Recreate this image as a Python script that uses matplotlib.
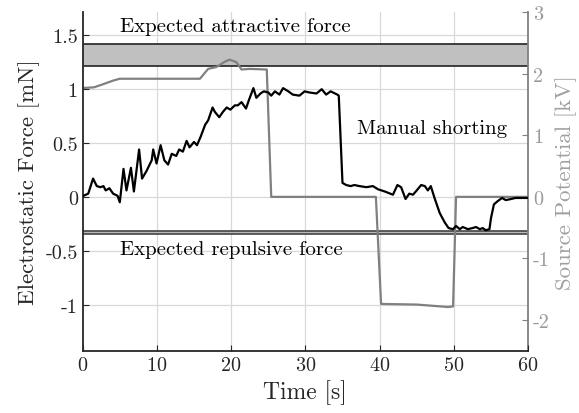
import numpy as np
import matplotlib
matplotlib.use("Agg")
import matplotlib.pyplot as plt

plt.rcParams["font.family"] = "serif"
plt.rcParams["font.serif"] = ["cmr10", "DejaVu Serif"]
plt.rcParams["mathtext.fontset"] = "cm"
plt.rcParams["axes.unicode_minus"] = False
plt.rcParams["axes.formatter.use_mathtext"] = True

# electrostatic force [mN] vs time [s]
t_force = [0.1, 0.75, 1.4, 1.9, 2.4, 2.8, 3.1, 3.6, 4.1, 4.7, 5.0, 5.5, 5.9, 6.5, 6.9,
           7.6, 8.0, 8.6, 9.3, 9.5, 9.95, 10.5, 11.0, 11.5, 12.0, 12.6, 13.0, 13.5,
           14.0, 14.4, 15.0, 15.4, 15.9, 16.5, 16.9, 17.5, 17.8, 18.4, 18.9, 19.4,
           19.9, 20.5, 20.9, 21.4, 22.0, 22.4, 23.0, 23.4, 23.95, 24.4, 25.0, 25.4,
           25.9, 26.5, 27.0, 27.7, 28.3, 29.2, 29.9, 30.5, 31.5, 32.2, 32.8, 33.4,
           34.3, 34.5, 35.0, 35.5, 36.1, 36.6, 37.3, 38.2, 39.1, 39.8, 40.7, 41.8,
           42.4, 42.9, 43.5, 44.0, 44.5, 45.0, 45.6, 46.1, 46.5, 46.9, 47.4, 48.1,
           48.8, 49.3, 49.9, 50.3, 50.8, 51.2, 51.9, 52.5, 53.0, 53.5, 53.9, 54.3,
           54.8, 55.0, 55.4, 55.9, 56.5, 57.0, 57.7, 58.3, 59.2, 59.9]
force = [0.01, 0.03, 0.17, 0.10, 0.09, 0.10, 0.06, 0.08, 0.03, 0.01, -0.05, 0.26, 0.06,
         0.27, 0.05, 0.44, 0.17, 0.24, 0.34, 0.44, 0.31, 0.48, 0.34, 0.30, 0.40, 0.38,
         0.44, 0.42, 0.52, 0.46, 0.51, 0.48, 0.56, 0.67, 0.71, 0.83, 0.79, 0.74, 0.79,
         0.83, 0.81, 0.85, 0.85, 0.88, 0.82, 0.90, 1.01, 0.92, 0.96, 0.98, 0.97, 0.94,
         0.98, 0.95, 1.01, 0.98, 0.95, 0.94, 0.98, 0.97, 0.96, 1.00, 0.95, 0.98, 0.95,
         0.94, 0.13, 0.11, 0.10, 0.11, 0.10, 0.09, 0.10, 0.07, 0.05, 0.02, 0.11, 0.09,
         -0.02, 0.03, 0.02, 0.06, 0.11, 0.10, 0.06, 0.10, -0.01, -0.15, -0.24, -0.29,
         -0.30, -0.27, -0.30, -0.28, -0.30, -0.29, -0.28, -0.30, -0.29, -0.31, -0.30,
         -0.20, -0.07, -0.04, -0.01, -0.03, -0.02, -0.01, -0.01, -0.01]

# source potential [kV] vs time [s]
t_volt = [0.0, 1.5, 2.5, 4.1, 5.0, 10.0, 15.8, 16.9, 18.0, 19.2, 19.8, 20.7, 21.4,
          22.5, 24.8, 25.4, 39.5, 40.2, 45.0, 49.2, 49.9, 50.3, 60.0]
volt = [1.77, 1.78, 1.82, 1.89, 1.92, 1.92, 1.92, 2.08, 2.11, 2.20, 2.23, 2.19, 2.07,
        2.08, 2.07, 0.0, 0.0, -1.74, -1.75, -1.79, -1.78, 0.0, 0.0]

attract_band = (1.22, 1.42)
repulse_band = (-0.345, -0.32)

fig = plt.figure(figsize=(5.79, 4.14), dpi=100)
ax = fig.add_axes([0.1428, 0.1505, 0.7692, 0.8174])
ax2 = ax.twinx()

ax.set_xlim(0, 60)
ax.set_ylim(-2.5 * 4 / 7, 3 * 4 / 7)
ax2.set_ylim(-2.5, 3)

# bands live on the lower axes (force units) so the potential trace sits on top
tr = ax.transData
ax2.fill_between([0, 60], *attract_band, color="#c0c0c0", lw=0, zorder=1, transform=tr)
ax2.fill_between([0, 60], *repulse_band, color="#bbbbbb", lw=0, zorder=1, transform=tr)
for v in attract_band:
    ax2.plot([0, 60], [v, v], color="#222222", lw=1.2, zorder=2, transform=tr)
for v in repulse_band:
    ax2.plot([0, 60], [v, v], color="#444444", lw=1.2, zorder=2, transform=tr)
ax2.set_ylim(-2.5, 3)

ax2.plot(t_volt, volt, color="#808080", lw=1.6, zorder=3)
ax.plot(t_force, force, color="black", lw=1.6, zorder=4)
ax.set_zorder(ax2.get_zorder() + 1)
ax.patch.set_visible(False)

ax.set_xticks([0, 10, 20, 30, 40, 50, 60])
ax.set_yticks([-1, -0.5, 0, 0.5, 1, 1.5])
ax.set_yticklabels(["-1", "-0.5", "0", "0.5", "1", "1.5"])
ax2.set_yticks([-2, -1, 0, 1, 2, 3])
ax2.set_yticklabels(["-2", "-1", "0", "1", "2", "3"])

ax2.grid(False)
ax.grid(True, color="#d8d8d8", lw=0.9)
ax.set_axisbelow(True)
# grid must sit under the bands, so draw it on the lower axes too
ax.grid(False)
for x in [10, 20, 30, 40, 50]:
    ax2.axvline(x, color="#d8d8d8", lw=0.9, zorder=0)
for y in [-1, -0.5, 0, 0.5, 1, 1.5]:
    ax2.plot([0, 60], [y, y], color="#d8d8d8", lw=0.9, zorder=0, transform=tr)
ax2.set_ylim(-2.5, 3)

for a in (ax, ax2):
    a.spines["top"].set_visible(False)
ax.spines["left"].set_color("#262626")
ax.spines["bottom"].set_color("#262626")
ax.spines["right"].set_visible(False)
ax2.spines["left"].set_visible(False)
ax2.spines["bottom"].set_visible(False)
ax2.spines["right"].set_color("#808080")
for a in (ax, ax2):
    for s in a.spines.values():
        s.set_linewidth(1.3)

ax.tick_params(direction="in", labelsize=14.5, colors="#262626", length=4)
ax2.tick_params(direction="in", labelsize=14.5, colors="#808080", length=4)
for lbl in ax2.get_yticklabels():
    lbl.set_color("#999999")

ax.set_xlabel("Time [s]", fontsize=17, color="#262626")
ax.set_ylabel("Electrostatic Force [mN]", fontsize=16.5, color="#262626")
ax2.set_ylabel("Source Potential [kV]", fontsize=16.5, color="#a0a0a0")

ax.text(5, 1.59, "Expected attractive force", fontsize=15, va="center", ha="left")
ax.text(37, 0.64, "Manual shorting", fontsize=15, va="center", ha="left")
ax.text(5, -0.48, "Expected repulsive force", fontsize=15, va="center", ha="left")

fig.savefig("out.png", dpi=100)
